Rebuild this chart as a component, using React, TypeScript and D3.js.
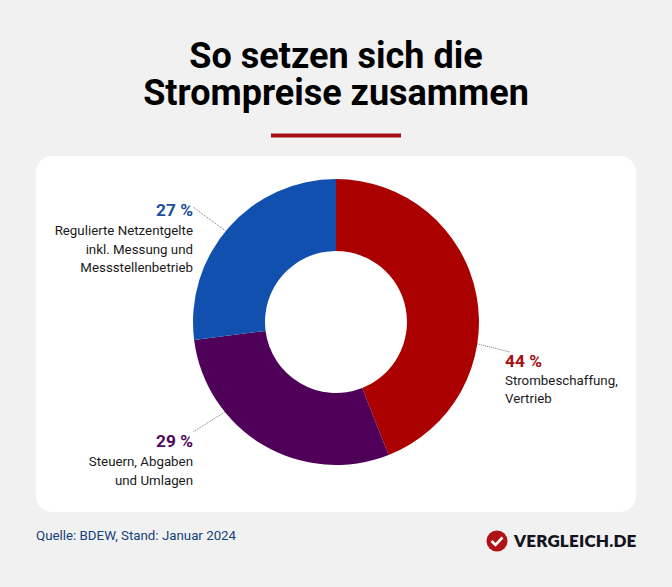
import React from "react";
import * as d3 from "d3";

const categories = ["Strombeschaffung, Vertrieb", "Steuern, Abgaben und Umlagen", "Regulierte Netzentgelte inkl. Messung und Messstellenbetrieb"];
const values = [44, 29, 27];
const colors = ["#aa0000", "#4f0058", "#1250b0"];
const labelColors = ["#a50f14", "#4f0a5c", "#1f4f9c"];
const labelLines = [
  ["Strombeschaffung,", "Vertrieb"],
  ["Steuern, Abgaben", "und Umlagen"],
  ["Regulierte Netzentgelte", "inkl. Messung und", "Messstellenbetrieb"],
];
const labelX = [505, 193, 193];
const labelY = [367, 447, 216];
const lineOffset = [18, 19, 19];
const lineStep = [18, 18.5, 18.5];
const anchors = ["start", "end", "end"];
const leaderAngle = [98.8, 231, 309.5];
const leaderEnd: [number, number][] = [[510, 352], [193, 432], [193, 207]];
const titleLines = ["So setzen sich die", "Strompreise zusammen"];

const cx = 336, cy = 322, R = 143, r = 71;

export default function App() {
  const pie = d3.pie<number>().sort(null)(values);
  const arc = d3.arc<d3.PieArcDatum<number>>().innerRadius(r).outerRadius(R);
  const font = "Roboto, sans-serif";
  return (
    <svg width={672} height={587} style={{ position: "absolute", left: 0, top: 0, background: "#f1f1f1" }} fontFamily={font}>
      <rect x={36} y={156} width={600} height={356} rx={16} fill="#fff" />
      {titleLines.map((t, i) => (
        <text key={t} x={336} y={68 + i * 37} textAnchor="middle" fontSize={36} fontWeight={700} fill="#000" >{t}</text>
      ))}
      <rect x={271} y={133.5} width={130} height={4} fill="#a50f14" />
      <g transform={`translate(${cx},${cy})`}>
        {pie.map((d, i) => <path key={i} d={arc(d) || ""} fill={colors[i]}><title>{categories[i]}</title></path>)}
      </g>
      {values.map((v, i) => {
        const a = (leaderAngle[i] * Math.PI) / 180;
        const x1 = cx + R * Math.sin(a), y1 = cy - R * Math.cos(a);
        return (
          <g key={i}>
            <line x1={x1} y1={y1} x2={leaderEnd[i][0]} y2={leaderEnd[i][1]} stroke="#777" strokeWidth={1} strokeDasharray="1 1" />
            <text x={labelX[i]} y={labelY[i]} textAnchor={anchors[i]} fontSize={17.3} fontWeight={700} fill={labelColors[i]}>{v} %</text>
            {labelLines[i].map((l, j) => (
              <text key={l} x={labelX[i]} y={labelY[i] + lineOffset[i] + j * lineStep[i]} textAnchor={anchors[i]} fontSize={13.3} fill="#1a1a1a">{l}</text>
            ))}
          </g>
        );
      })}
      <text x={36} y={540} fontSize={13.3} fill="#15427a">Quelle: BDEW, Stand: Januar 2024</text>
      <circle cx={497} cy={541} r={10.5} fill="#b01116" />
      <path d="M491.5 541 L495.5 545 L502.5 537.5" fill="none" stroke="#fff" strokeWidth={2.6} />
      <text x={514} y={547} fontSize={17} fontWeight={800} fontFamily="Lato, sans-serif" fill="#14141e" letterSpacing={0.2}>VERGLEICH.DE</text>
    </svg>
  );
}
